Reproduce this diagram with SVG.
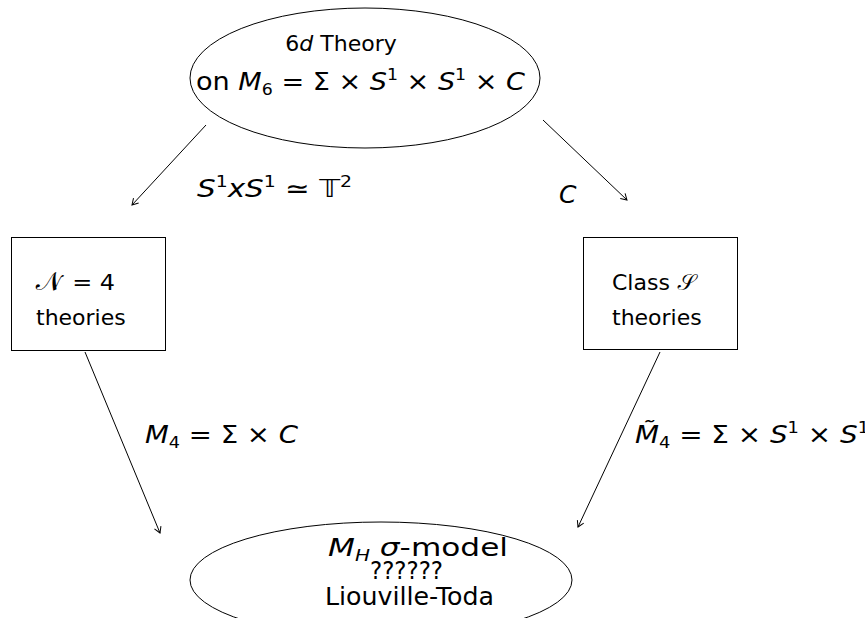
<svg xmlns="http://www.w3.org/2000/svg" width="865" height="618" viewBox="0 0 865 618">
<defs>
<marker id="arr" markerWidth="10" markerHeight="10" refX="8" refY="5" orient="auto" markerUnits="userSpaceOnUse">
<path d="M2,1.5 L8,5 L2,8.5" fill="none" stroke="#000" stroke-width="1"/>
</marker>
<style>
text{font-family:"DejaVu Sans","Noto Sans",sans-serif;font-size:22px;fill:#000}
.big{font-size:25px}
.i{font-style:italic}
.sub{font-size:16px}
.shape{fill:none;stroke:#000;stroke-width:1}
.conn line{stroke:#000;stroke-width:1;marker-end:url(#arr)}
</style>
</defs>
<rect width="865" height="618" fill="#fff"/>
<g id="top">
<ellipse class="shape" cx="365" cy="78" rx="175" ry="70"/>
<text x="341" y="51" text-anchor="middle">6<tspan class="i">d</tspan> Theory</text>
<text x="196" y="90" class="big" textLength="329" lengthAdjust="spacingAndGlyphs">on <tspan class="i">M</tspan><tspan class="sub" dy="5">6</tspan><tspan dy="-5"> = Σ × </tspan><tspan class="i">S</tspan><tspan class="sub" dy="-10">1</tspan><tspan dy="10"> × </tspan><tspan class="i">S</tspan><tspan class="sub" dy="-10">1</tspan><tspan dy="10"> × </tspan><tspan class="i">C</tspan></text>
</g>
<g id="n4">
<rect class="shape" x="11.5" y="237.5" width="154" height="113"/>
<text x="35" y="290" textLength="80" lengthAdjust="spacingAndGlyphs"><tspan font-family="Noto Sans Math, DejaVu Serif, serif" font-size="26">𝒩</tspan> = 4</text>
<text x="36" y="325">theories</text>
</g>
<g id="classS">
<rect class="shape" x="583.5" y="237.5" width="154" height="112"/>
<text x="612" y="290">Class <tspan font-family="Noto Sans Math, DejaVu Serif, serif">𝒮</tspan></text>
<text x="612" y="325">theories</text>
</g>
<g id="bottom">
<ellipse class="shape" cx="381" cy="580" rx="191" ry="58"/>
<text x="328" y="556" class="big" textLength="180" lengthAdjust="spacingAndGlyphs"><tspan class="i">M</tspan><tspan class="sub i" dy="5">H</tspan><tspan dy="-5"> </tspan><tspan class="i">σ</tspan>-model</text>
<text x="370" y="579" class="big" textLength="73" lengthAdjust="spacingAndGlyphs">??????</text>
<text x="325" y="605" class="big" textLength="169" lengthAdjust="spacingAndGlyphs">Liouville-Toda</text>
</g>
<g class="conn" id="connectors">
<line x1="206" y1="125" x2="132" y2="205"/>
<line x1="543" y1="120" x2="627" y2="200"/>
<line x1="85" y1="352" x2="160" y2="533"/>
<line x1="660" y1="352" x2="578" y2="527"/>
</g>
<g id="labels">
<text x="197" y="197" class="big" textLength="155" lengthAdjust="spacingAndGlyphs"><tspan class="i">S</tspan><tspan class="sub" dy="-10">1</tspan><tspan class="i" dy="10">x</tspan><tspan class="i">S</tspan><tspan class="sub" dy="-10">1</tspan><tspan dy="10"> ≃ </tspan><tspan font-family="DejaVu Sans, Noto Sans Math, serif">𝕋</tspan><tspan class="sub" dy="-10">2</tspan></text>
<text x="559" y="203" class="big i">C</text>
<text x="145" y="443" class="big" textLength="153" lengthAdjust="spacingAndGlyphs"><tspan class="i">M</tspan><tspan class="sub" dy="5">4</tspan><tspan dy="-5"> = Σ × </tspan><tspan class="i">C</tspan></text>
<text x="635" y="443" class="big" textLength="234" lengthAdjust="spacingAndGlyphs"><tspan class="i">M̃</tspan><tspan class="sub" dy="5">4</tspan><tspan dy="-5"> = Σ × </tspan><tspan class="i">S</tspan><tspan class="sub" dy="-10">1</tspan><tspan dy="10"> × </tspan><tspan class="i">S</tspan><tspan class="sub" dy="-10">1</tspan></text>
</g>
</svg>
